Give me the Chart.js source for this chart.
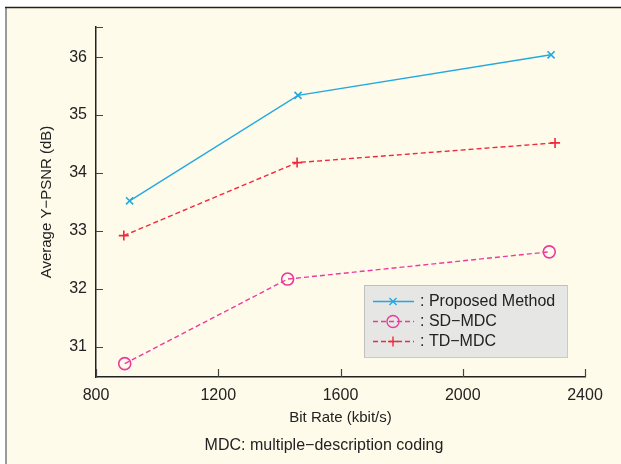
<!DOCTYPE html>
<html>
<head>
<meta charset="utf-8">
<script src="https://cdn.jsdelivr.net/npm/chart.js@4.4.1/dist/chart.umd.min.js"></script>
<style>
  html, body { margin: 0; padding: 0; background: #fff; }
  #wrap { width: 621px; height: 464px; }
</style>
</head>
<body>
<div id="wrap"><canvas id="chart" width="621" height="464"></canvas></div>
<script>
const FONT = "'Liberation Sans', Arial, sans-serif";
const INK = "#222";

const xTicks = [800, 1200, 1600, 2000, 2400];
const yTicks = [31, 32, 33, 34, 35, 36];
const seriesNames = ["Proposed Method", "SD\u2212MDC", "TD\u2212MDC"];

const proposedX = [910, 1461, 2289];
const proposedY = [33.52, 35.34, 36.04];
const sdX = [894, 1427, 2283];
const sdY = [30.71, 32.17, 32.64];
const tdX = [891, 1458, 2302];
const tdY = [32.92, 34.18, 34.52];

const toPoints = (xs, ys) => xs.map((x, i) => ({ x, y: ys[i] }));

// cream page with the framing lines at top and left
const framePlugin = {
    id: "frame",
    beforeDraw(chart) {
        const ctx = chart.ctx;
        ctx.save();
        ctx.fillStyle = "#fff";
        ctx.fillRect(0, 0, chart.width, chart.height);
        ctx.fillStyle = "#fffbea";
        ctx.fillRect(6, 8, chart.width, chart.height);
        ctx.strokeStyle = "#9a9a9a"; ctx.lineWidth = 2;
        ctx.beginPath(); ctx.moveTo(6, 8); ctx.lineTo(6, chart.height); ctx.stroke();
        ctx.strokeStyle = "#222"; ctx.lineWidth = 1.5;
        ctx.beginPath(); ctx.moveTo(5, 7.5); ctx.lineTo(chart.width, 7.5); ctx.stroke();
        ctx.restore();
    },
};

// inward tick marks, legend box and the caption line
const extrasPlugin = {
    id: "extras",
    afterDraw(chart) {
        const ctx = chart.ctx;
        const xs = chart.scales.x, ys = chart.scales.y;
        ctx.save();
        ctx.strokeStyle = "#444"; ctx.lineWidth = 1.2;
        ctx.beginPath();
        yTicks.forEach((v) => { const py = Math.round(ys.getPixelForValue(v)) + 0.5; ctx.moveTo(xs.left, py); ctx.lineTo(xs.left + 7, py); });
        ctx.moveTo(xs.left, ys.top + 0.5); ctx.lineTo(xs.left + 7, ys.top + 0.5);
        xTicks.forEach((v) => { const px = Math.round(xs.getPixelForValue(v)) + 0.5; ctx.moveTo(px, ys.bottom); ctx.lineTo(px, ys.bottom - 8); });
        ctx.stroke();

        // legend
        const bx = 364, by = 285, bw = 203, bh = 72;
        ctx.fillStyle = "#e6e6e4";
        ctx.fillRect(bx, by, bw, bh);
        ctx.setLineDash([1, 1]); ctx.strokeStyle = "#999"; ctx.lineWidth = 1;
        ctx.strokeRect(bx + 0.5, by + 0.5, bw, bh);
        ctx.setLineDash([]);
        const rows = [301.5, 321.5, 341.5];
        chart.data.datasets.forEach((ds, i) => {
            const ry = rows[i];
            ctx.strokeStyle = ds.borderColor; ctx.lineWidth = ds.borderWidth;
            ctx.setLineDash(ds.borderDash || []);
            ctx.beginPath(); ctx.moveTo(373, ry); ctx.lineTo(414, ry); ctx.stroke();
            ctx.setLineDash([]);
            ctx.fillStyle = "transparent";
            Chart.helpers.drawPoint(ctx, { pointStyle: ds.pointStyle, radius: ds.pointRadius, borderWidth: ds.pointBorderWidth, rotation: 0 }, 393, ry);
            ctx.fillStyle = INK;
            ctx.font = `16px ${FONT}`;
            ctx.textAlign = "left"; ctx.textBaseline = "middle";
            ctx.fillText(": " + ds.label, 420, ry);
        });

        ctx.fillStyle = INK;
        ctx.font = `16px ${FONT}`;
        ctx.textAlign = "center"; ctx.textBaseline = "middle";
        ctx.fillText("MDC: multiple\u2212description coding", 324, 446);
        ctx.restore();
    },
};

const lineSet = (label, data, color, dash, style, radius) => ({
    label, data,
    borderColor: color, backgroundColor: "transparent",
    borderWidth: 1.4, borderDash: dash,
    pointStyle: style, pointRadius: radius, pointHoverRadius: radius,
    pointBorderColor: color, pointBackgroundColor: "transparent", pointBorderWidth: 1.6,
    tension: 0, fill: false,
});

new Chart(document.getElementById("chart"), {
    type: "line",
    data: {
        datasets: [
            lineSet(seriesNames[0], toPoints(proposedX, proposedY), "#23a9e1", [], "crossRot", 5),
            lineSet(seriesNames[1], toPoints(sdX, sdY), "#ec3b9c", [5, 3], "circle", 6),
            lineSet(seriesNames[2], toPoints(tdX, tdY), "#ee2a3c", [5, 3], "cross", 5),
        ],
    },
    options: {
        responsive: false,
        animation: false,
        layout: { padding: { left: 0, top: 27, right: 36, bottom: 37 } },
        plugins: { legend: { display: false }, tooltip: { enabled: false } },
        scales: {
            x: {
                type: "linear", min: 800, max: 2400,
                afterBuildTicks: (s) => { s.ticks = xTicks.map((v) => ({ value: v })); },
                afterFit: (s) => { s.height = 50; },
                grid: { display: false, drawTicks: false },
                border: { display: true, color: INK, width: 1.5 },
                ticks: { color: INK, font: { family: FONT, size: 16 }, padding: 9, maxRotation: 0, callback: (v) => String(v) },
                title: { display: true, text: "Bit Rate (kbit/s)", color: INK, font: { family: FONT, size: 15 }, padding: { top: 0, bottom: 0 } },
            },
            y: {
                type: "linear", min: 30.48, max: 36.52,
                afterBuildTicks: (s) => { s.ticks = yTicks.map((v) => ({ value: v })); },
                afterFit: (s) => { s.width = 96; },
                grid: { display: false, drawTicks: false },
                border: { display: true, color: INK, width: 1.5 },
                ticks: { color: INK, font: { family: FONT, size: 16 }, padding: 9, callback: (v) => String(v) },
                title: { display: true, text: "Average Y\u2212PSNR (dB)", color: INK, font: { family: FONT, size: 15 }, padding: { top: 38, bottom: 0 } },
            },
        },
    },
    plugins: [framePlugin, extrasPlugin],
});
</script>
</body>
</html>
